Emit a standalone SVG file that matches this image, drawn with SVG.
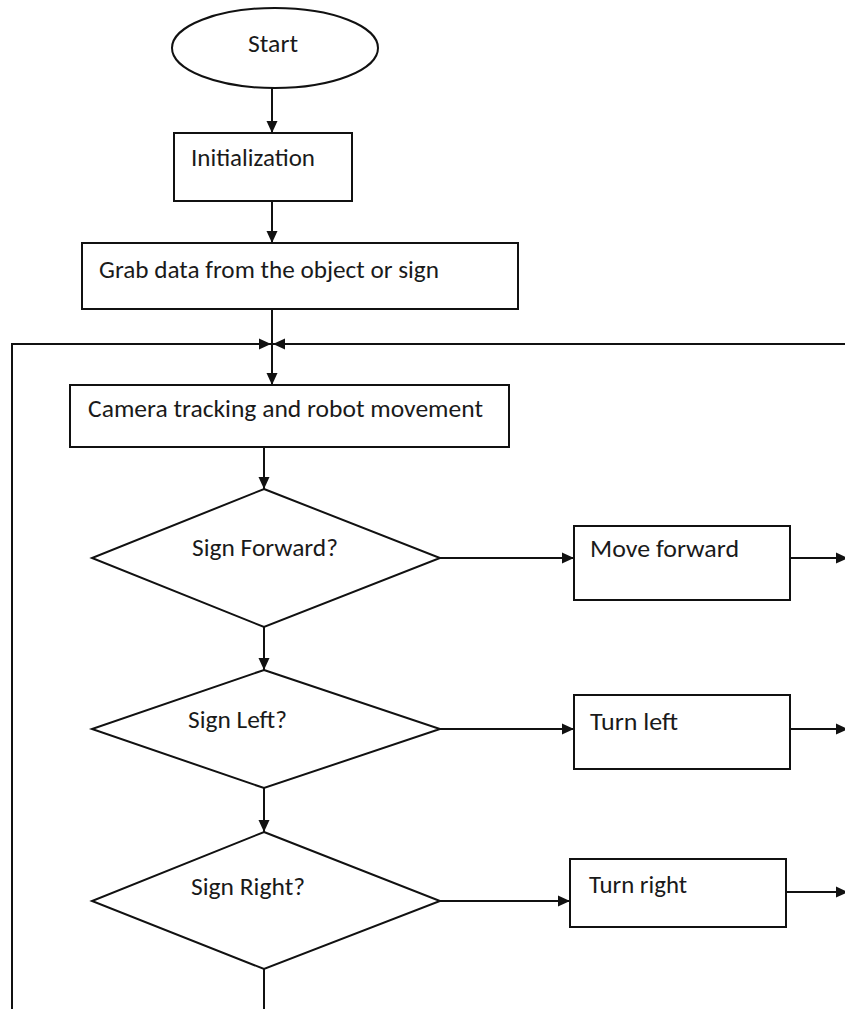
<svg xmlns="http://www.w3.org/2000/svg" width="845" height="1009" viewBox="0 0 845 1009">
  <style>
    .shape { fill: #ffffff; stroke: #111111; stroke-width: 2; }
    .link { fill: none; stroke: #111111; stroke-width: 2; }
    .arrow { marker-end: url(#head); }
    .label { font-family: Carlito, Lato, "Liberation Sans", sans-serif; font-size: 25px; fill: #1a1a1a; }
  </style>
  <defs>
    <marker id="head" markerUnits="userSpaceOnUse" markerWidth="13" markerHeight="12" refX="12" refY="6" orient="auto">
      <path d="M0,0.5 L12,6 L0,11.5 z" fill="#111111"/>
    </marker>
  </defs>
  <rect width="845" height="1009" fill="#ffffff"/>

  <!-- connectors -->
  <g id="connectors">
    <line class="link arrow" x1="272" y1="88" x2="272" y2="133"/>
    <line class="link arrow" x1="272" y1="201" x2="272" y2="243"/>
    <line class="link arrow" x1="272" y1="309" x2="272" y2="385"/>
    <!-- loop-back lines meeting at the junction -->
    <line class="link arrow" x1="12" y1="344" x2="271" y2="344"/>
    <line class="link arrow" x1="845" y1="344" x2="273" y2="344"/>
    <line class="link" x1="12" y1="343" x2="12" y2="1009"/>
    <line class="link arrow" x1="264" y1="447" x2="264" y2="489"/>
    <line class="link arrow" x1="440" y1="558" x2="574" y2="558"/>
    <line class="link arrow" x1="790" y1="558" x2="848" y2="558"/>
    <line class="link arrow" x1="264" y1="627" x2="264" y2="670"/>
    <line class="link arrow" x1="440" y1="729" x2="574" y2="729"/>
    <line class="link arrow" x1="790" y1="729" x2="848" y2="729"/>
    <line class="link arrow" x1="264" y1="788" x2="264" y2="832"/>
    <line class="link arrow" x1="440" y1="901" x2="570" y2="901"/>
    <line class="link arrow" x1="786" y1="892" x2="848" y2="892"/>
    <line class="link" x1="264" y1="969" x2="264" y2="1009"/>
  </g>

  <g id="start">
    <ellipse class="shape" cx="275" cy="48" rx="103" ry="40"/>
    <text class="label" x="248" y="52" textLength="50" lengthAdjust="spacingAndGlyphs">Start</text>
  </g>
  <g id="init">
    <rect class="shape" x="174" y="133" width="178" height="68"/>
    <text class="label" x="191" y="166" textLength="124" lengthAdjust="spacingAndGlyphs">Initialization</text>
  </g>
  <g id="grab">
    <rect class="shape" x="82" y="243" width="436" height="66"/>
    <text class="label" x="99" y="278" textLength="340" lengthAdjust="spacingAndGlyphs">Grab data from the object or sign</text>
  </g>
  <g id="camera">
    <rect class="shape" x="70" y="385" width="439" height="62"/>
    <text class="label" x="88" y="417" textLength="395" lengthAdjust="spacingAndGlyphs">Camera tracking and robot movement</text>
  </g>
  <g id="sign-forward">
    <polygon class="shape" points="264,489 440,558 264,627 92,558"/>
    <text class="label" x="192" y="556" textLength="146" lengthAdjust="spacingAndGlyphs">Sign Forward?</text>
  </g>
  <g id="move-forward">
    <rect class="shape" x="574" y="526" width="216" height="74"/>
    <text class="label" x="590" y="557" textLength="149" lengthAdjust="spacingAndGlyphs">Move forward</text>
  </g>
  <g id="sign-left">
    <polygon class="shape" points="264,670 440,729 264,788 92,729"/>
    <text class="label" x="188" y="728" textLength="99" lengthAdjust="spacingAndGlyphs">Sign Left?</text>
  </g>
  <g id="turn-left">
    <rect class="shape" x="574" y="695" width="216" height="74"/>
    <text class="label" x="590" y="730" textLength="88" lengthAdjust="spacingAndGlyphs">Turn left</text>
  </g>
  <g id="sign-right">
    <polygon class="shape" points="264,832 440,901 264,969 92,901"/>
    <text class="label" x="191" y="895" textLength="114" lengthAdjust="spacingAndGlyphs">Sign Right?</text>
  </g>
  <g id="turn-right">
    <rect class="shape" x="570" y="859" width="216" height="68"/>
    <text class="label" x="589" y="893" textLength="98" lengthAdjust="spacingAndGlyphs">Turn right</text>
  </g>
</svg>
